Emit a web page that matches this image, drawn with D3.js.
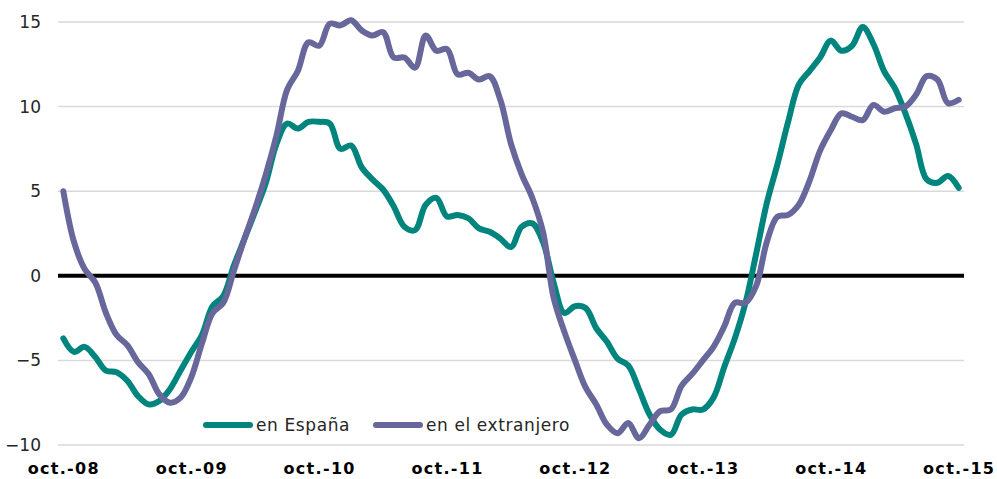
<!DOCTYPE html>
<html>
<head>
<meta charset="utf-8">
<script src="https://cdn.jsdelivr.net/npm/d3@7"></script>
<style>
  body { margin: 0; background: #fff; }
  svg { display: block; font-family: 'DejaVu Sans', Verdana, sans-serif; }
</style>
</head>
<body>
<div id="chart"></div>
<script>
// monthly series, oct-08 .. oct-15
const startMonth = new Date(2008, 9, 1);
const months = d3.range(85).map(i => d3.timeMonth.offset(startMonth, i));

const enEspana = [
  -3.7, -4.5, -4.2, -4.8, -5.6, -5.7, -6.2, -7.1, -7.6, -7.4, -6.7, -5.6,
  -4.5, -3.5, -1.8, -1.2, 0.6, 2.2, 3.8, 5.5, 7.8, 9.0, 8.7, 9.1,
  9.1, 9.0, 7.5, 7.7, 6.4, 5.7, 5.1, 4.1, 2.9, 2.7, 4.2, 4.6,
  3.5, 3.6, 3.4, 2.8, 2.6, 2.2, 1.7, 2.9, 3.1, 2.0, -0.4, -2.2,
  -1.8, -1.9, -3.1, -3.9, -4.9, -5.3, -6.7, -8.2, -9.1, -9.4, -8.2, -7.9,
  -7.9, -7.2, -5.4, -3.7, -1.6, 1.3, 4.3, 6.6, 9.1, 11.3, 12.1, 12.9,
  13.9, 13.3, 13.6, 14.7, 13.7, 12.1, 11.1, 9.6, 7.8, 5.7, 5.5, 5.9,
  5.2
];

const enElExtranjero = [
  5.0, 2.0, 0.4, -0.4, -2.2, -3.5, -4.1, -5.1, -5.8, -7.0, -7.5, -7.2,
  -6.0, -4.0, -2.2, -1.6, 0.3, 2.2, 4.0, 6.0, 8.3, 11.0, 12.1, 13.8,
  13.6, 14.9, 14.8, 15.1, 14.5, 14.2, 14.4, 12.9, 12.9, 12.3, 14.2, 13.3,
  13.4, 11.9, 12.0, 11.6, 11.8, 10.4, 7.8, 6.0, 4.6, 2.6, -1.3, -3.3,
  -5.0, -6.6, -7.6, -8.8, -9.3, -8.7, -9.6, -8.8, -8.0, -7.9, -6.5, -5.8,
  -5.0, -4.2, -3.0, -1.6, -1.6, -0.6, 2.0, 3.5, 3.6, 4.2, 5.6, 7.4,
  8.6, 9.6, 9.4, 9.2, 10.1, 9.7, 9.9, 10.0, 10.7, 11.8, 11.6, 10.2,
  10.4
];

const seriesNames = ['en España', 'en el extranjero'];
const seriesColors = ['#00857e', '#67679b'];
const yTicks = [-10, -5, 0, 5, 10, 15];

const width = 997, height = 479;
const margin = { top: 22, right: 33, bottom: 34, left: 58 };

const svg = d3.select('#chart').append('svg')
  .attr('width', width)
  .attr('height', height);

const x = d3.scalePoint()
  .domain(months)
  .range([margin.left, width - margin.right])
  .padding(0.5);

const y = d3.scaleLinear()
  .domain([-10, 15])
  .range([height - margin.bottom, margin.top]);

const fmt = d3.timeFormat('%y');

//gridlines
svg.append('g')
  .selectAll('line')
  .data(yTicks.filter(d => d !== 0))
  .enter().append('line')
  .attr('x1', margin.left)
  .attr('x2', width - margin.right)
  .attr('y1', d => y(d))
  .attr('y2', d => y(d))
  .attr('stroke', '#d9d9d9')
  .attr('stroke-width', 1.5);

//y axis labels
const yAxis = svg.append('g')
  .attr('transform', 'translate(' + margin.left + ',0)')
  .call(d3.axisLeft(y).tickValues(yTicks).tickSize(0).tickPadding(17).tickFormat(d3.format('d')));
yAxis.select('.domain').remove();
yAxis.selectAll('text')
  .attr('fill', '#262626')
  .style('font-size', '17px')
  .style('font-family', "'DejaVu Sans', Verdana, sans-serif");

//x axis labels
const xAxis = svg.append('g')
  .attr('transform', 'translate(0,' + (height - margin.bottom) + ')')
  .call(d3.axisBottom(x)
    .tickValues(months.filter((d, i) => i % 12 === 0))
    .tickSize(0)
    .tickPadding(18)
    .tickFormat(d => 'oct.-' + fmt(d)));
xAxis.select('.domain').remove();
xAxis.selectAll('text')
  .attr('fill', '#000')
  .style('font-size', '16px')
  .style('font-weight', 'bold')
  .style('letter-spacing', '1.3px')
  .style('font-family', "'DejaVu Sans', Verdana, sans-serif");

//zero line
svg.append('line')
  .attr('x1', margin.left)
  .attr('x2', width - margin.right)
  .attr('y1', y(0))
  .attr('y2', y(0))
  .attr('stroke', '#000')
  .attr('stroke-width', 4);

const line = d3.line()
  .curve(d3.curveCatmullRom.alpha(0.5))
  .x((d, i) => x(months[i]))
  .y(d => y(d));

const allSeries = [enEspana, enElExtranjero];

svg.append('g')
  .selectAll('path')
  .data(allSeries)
  .enter().append('path')
  .attr('fill', 'none')
  .attr('stroke', (d, i) => seriesColors[i])
  .attr('stroke-width', 6)
  .attr('stroke-linecap', 'round')
  .attr('stroke-linejoin', 'round')
  .attr('d', d => line(d));

//legend
const legendX = [206, 376];
const legendY = 425;
const legend = svg.append('g')
  .selectAll('g')
  .data(seriesNames)
  .enter().append('g')
  .attr('transform', (d, i) => 'translate(' + legendX[i] + ',' + legendY + ')');

legend.append('line')
  .attr('x1', 0)
  .attr('x2', 44)
  .attr('stroke', (d, i) => seriesColors[i])
  .attr('stroke-width', 6)
  .attr('stroke-linecap', 'round');

legend.append('text')
  .attr('x', 50)
  .attr('y', 6)
  .attr('fill', '#262626')
  .style('font-size', '17px')
  .style('letter-spacing', '0.6px')
  .text(d => d);
</script>
</body>
</html>
